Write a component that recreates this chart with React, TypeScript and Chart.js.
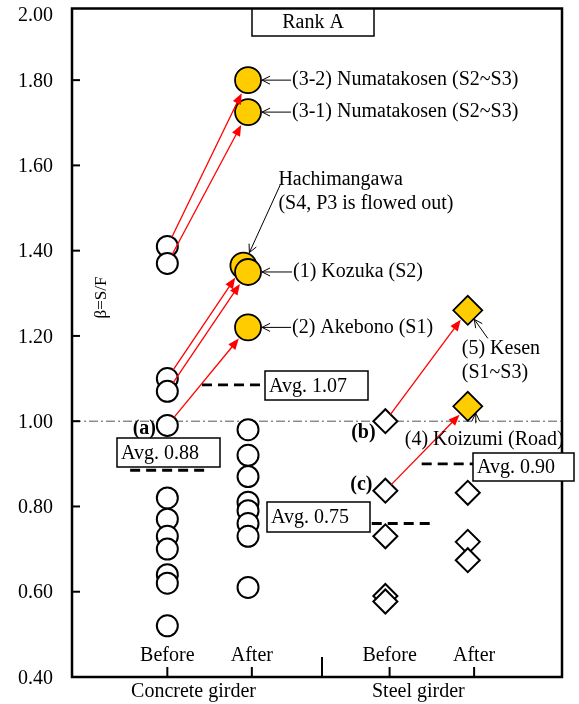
import React, { useEffect, useRef } from "react";
import { Chart, registerables } from "chart.js";
Chart.register(...registerables);

const FONT = '"Liberation Serif", "Times New Roman", serif';

// ---- axes ----
const yMin = 0.4;
const yMax = 1.968;
const yTickValues = [0.4, 0.6, 0.8, 1.0, 1.2, 1.4, 1.6, 1.8, 1.968];
const yTickLabels = ["0.40", "0.60", "0.80", "1.00", "1.20", "1.40", "1.60", "1.80", "2.00"];
const xMin = -0.128;
const xMax = 5.67;
const categories = ["Before", "After", "Before", "After"];
const categoryX = [1, 2, 3.63, 4.63];
const groupLabels = ["Concrete girder", "Steel girder"];
const groupLabelX = [1.31, 3.97];
const groupDividerX = 2.83;
const referenceLine = 1.0;

// ---- data ----
const concreteBeforeX = 1.0;
const concreteBefore = [1.41, 1.37, 1.1, 1.07, 0.99, 0.82, 0.77, 0.73, 0.7, 0.64, 0.62, 0.52];
const concreteAfterX = 1.955;
const concreteAfterPlain = [0.98, 0.92, 0.87, 0.81, 0.79, 0.76, 0.73, 0.61];
const concreteAfterRetrofit = [1.8, 1.725, 1.365, 1.35, 1.22];
const concreteAfterRetrofitX = [1.955, 1.955, 1.9, 1.955, 1.955];
const steelBeforeX = 3.58;
const steelBefore = [1.0, 0.837, 0.73, 0.59, 0.577];
const steelAfterX = 4.555;
const steelAfterPlain = [0.832, 0.717, 0.674];
const steelAfterRetrofit = [1.26, 1.035];

const avgLabels = ["Avg. 0.88", "Avg. 1.07", "Avg. 0.75", "Avg. 0.90"];
const avgLineY = [0.885, 1.085, 0.76, 0.9];
const avgLineX0 = [0.56, 1.41, 3.04, 4.01];
const avgLineX1 = [1.47, 2.5, 4.13, 5.1];

// dataset indices: 0 CB, 1 CA plain, 2 CA retrofit, 3 SB, 4 SA plain, 5 SA retrofit
const redArrows = [
  [0, 0, 2, 0],
  [0, 1, 2, 1],
  [0, 2, 2, 2],
  [0, 3, 2, 3],
  [0, 4, 2, 4],
  [3, 0, 5, 0],
  [3, 1, 5, 1],
];

const annotationTexts = [
  "(3-2) Numatakosen (S2~S3)",
  "(3-1) Numatakosen (S2~S3)",
  "(1) Kozuka (S2)",
  "(2) Akebono (S1)",
  "Hachimangawa",
  "(S4, P3 is flowed out)",
  "(5) Kesen",
  "(S1~S3)",
  "(4) Koizumi (Road)",
];

export default function App() {
  const ref = useRef<HTMLCanvasElement | null>(null);
  useEffect(() => {
    document.body.style.margin = "0";
    const canvas = ref.current!;
    const pts = (xs: number | number[], ys: number[]) =>
      ys.map((y, i) => ({ x: Array.isArray(xs) ? xs[i] : xs, y }));

    const diamondEdge = (r: number, ux: number, uy: number) => r / (Math.abs(ux) + Math.abs(uy));

    const head = (ctx: CanvasRenderingContext2D, tx: number, ty: number, ang: number, len: number, half: number, filled: boolean) => {
      const bx = tx - Math.cos(ang) * len;
      const by = ty - Math.sin(ang) * len;
      const px = -Math.sin(ang) * half;
      const py = Math.cos(ang) * half;
      ctx.beginPath();
      ctx.moveTo(bx + px, by + py);
      ctx.lineTo(tx, ty);
      ctx.lineTo(bx - px, by - py);
      if (filled) {
        ctx.closePath();
        ctx.fill();
      } else ctx.stroke();
    };

    const plugin = {
      id: "decor",
      beforeDraw(chart: any) {
        const ctx = chart.ctx;
        ctx.save();
        ctx.fillStyle = "#fff";
        ctx.fillRect(0, 0, chart.width, chart.height);
        ctx.restore();
      },
      beforeDatasetsDraw(chart: any) {
        const ctx: CanvasRenderingContext2D = chart.ctx;
        const { left, right, top, bottom } = chart.chartArea;
        const xs = chart.scales.x;
        const ys = chart.scales.y;
        ctx.save();
        // reference line
        ctx.strokeStyle = "#555";
        ctx.lineWidth = 1;
        ctx.setLineDash([9, 3, 2, 3]);
        const ry = ys.getPixelForValue(referenceLine);
        ctx.beginPath();
        ctx.moveTo(left, ry);
        ctx.lineTo(right, ry);
        ctx.stroke();
        ctx.setLineDash([]);
        // frame
        ctx.strokeStyle = "#000";
        ctx.lineWidth = 2.5;
        ctx.strokeRect(left, top, right - left, bottom - top);
        // y ticks inward + labels
        ctx.lineWidth = 2;
        ctx.fillStyle = "#000";
        ctx.font = `20px ${FONT}`;
        ctx.textAlign = "right";
        ctx.textBaseline = "middle";
        yTickValues.forEach((v, i) => {
          const y = ys.getPixelForValue(v);
          if (i > 0 && i < yTickValues.length - 1) {
            ctx.beginPath();
            ctx.moveTo(left, y);
            ctx.lineTo(left + 8, y);
            ctx.stroke();
          }
          ctx.fillText(yTickLabels[i], left - 19, Math.max(y + 1.5, top + 7));
        });
        // x ticks
        categoryX.forEach((v) => {
          const x = xs.getPixelForValue(v);
          ctx.beginPath();
          ctx.moveTo(x, bottom);
          ctx.lineTo(x, bottom - 10);
          ctx.stroke();
        });
        const dx = xs.getPixelForValue(groupDividerX);
        ctx.beginPath();
        ctx.moveTo(dx, bottom);
        ctx.lineTo(dx, bottom - 20);
        ctx.stroke();
        // x labels
        ctx.textAlign = "center";
        categories.forEach((c, i) => {
          ctx.fillText(c, xs.getPixelForValue(categoryX[i]), bottom - 21);
        });
        groupLabels.forEach((g, i) => {
          ctx.fillText(g, xs.getPixelForValue(groupLabelX[i]), bottom + 15);
        });
        // y title
        ctx.save();
        ctx.font = `17px ${FONT}`;
        ctx.translate(left + 30, ys.getPixelForValue(1.29));
        ctx.rotate(-Math.PI / 2);
        ctx.fillText("β=S/F", 0, 0);
        ctx.restore();
        ctx.restore();
      },
      afterDatasetsDraw(chart: any) {
        const ctx: CanvasRenderingContext2D = chart.ctx;
        const xs = chart.scales.x;
        const ys = chart.scales.y;
        const el = (d: number, i: number) => chart.getDatasetMeta(d).data[i];
        const rad = (d: number) => chart.data.datasets[d].pointRadius as number;
        const isDiamond = (d: number) => chart.data.datasets[d].pointStyle === "rectRot";
        ctx.save();
        // red arrows
        ctx.strokeStyle = "#ff0000";
        ctx.fillStyle = "#ff0000";
        ctx.lineWidth = 1.3;
        redArrows.forEach(([d0, i0, d1, i1]) => {
          const a = el(d0, i0);
          const b = el(d1, i1);
          const ang = Math.atan2(b.y - a.y, b.x - a.x);
          const ux = Math.cos(ang);
          const uy = Math.sin(ang);
          const r0 = isDiamond(d0) ? diamondEdge(rad(d0), ux, uy) : rad(d0);
          const r1 = (isDiamond(d1) ? diamondEdge(rad(d1), ux, uy) : rad(d1)) + 1.5;
          const sx = a.x + ux * r0;
          const sy = a.y + uy * r0;
          const tx = b.x - ux * r1;
          const ty = b.y - uy * r1;
          ctx.beginPath();
          ctx.moveTo(sx, sy);
          ctx.lineTo(tx - ux * 6, ty - uy * 6);
          ctx.stroke();
          head(ctx, tx, ty, ang, 11, 4.5, true);
        });
        // avg lines
        ctx.strokeStyle = "#000";
        ctx.lineWidth = 2.8;
        ctx.setLineDash([10, 6]);
        avgLineY.forEach((v, i) => {
          const y = ys.getPixelForValue(v);
          ctx.beginPath();
          ctx.moveTo(xs.getPixelForValue(avgLineX0[i]), y);
          ctx.lineTo(xs.getPixelForValue(avgLineX1[i]), y);
          ctx.stroke();
        });
        ctx.setLineDash([]);
        // boxes
        const boxes = [
          [117, 438, 103, 29],
          [265, 371, 103, 29],
          [267, 502, 103, 30],
          [473, 453, 101, 28],
        ];
        ctx.font = `20px ${FONT}`;
        ctx.textBaseline = "middle";
        ctx.textAlign = "left";
        boxes.forEach((b, i) => {
          ctx.fillStyle = "#fff";
          ctx.fillRect(b[0], b[1], b[2], b[3]);
          ctx.lineWidth = 1.5;
          ctx.strokeStyle = "#000";
          ctx.strokeRect(b[0], b[1], b[2], b[3]);
          ctx.fillStyle = "#000";
          ctx.fillText(avgLabels[i], b[0] + 4, b[1] + b[3] / 2 + 1);
        });
        // Rank A
        ctx.fillStyle = "#fff";
        ctx.fillRect(252, 9, 122, 27);
        ctx.strokeRect(252, 9, 122, 27);
        ctx.fillStyle = "#000";
        ctx.textAlign = "center";
        ctx.fillText("Rank A", 313, 23);
        // annotations
        ctx.textAlign = "left";
        ctx.lineWidth = 1;
        const ann: [number, number, number, number, number, number, number, number, number][] = [
          // text idx, ds, pt, textDx, textDy, tailDx, tailDy, tipDx, tipDy
          [0, 2, 0, 44, 0, 43, 0, 14, 0],
          [1, 2, 1, 44, 0, 43, 0, 14, 0],
          [2, 2, 3, 45, 0, 44, 0, 14, 0],
          [3, 2, 4, 44, 0, 43, 0, 14, 0],
          [4, 2, 2, 35, -86, 37, -81, 6, -13],
          [6, 5, 0, -6, 38, 20, 28, 6.5, 9],
          [8, 5, 1, -63, 33, 8, 17, 8, 7],
        ];
        ann.forEach(([ti, d, i, tdx, tdy, ldx, ldy, hdx, hdy]) => {
          const p = el(d, i);
          ctx.fillStyle = "#000";
          ctx.fillText(annotationTexts[ti], p.x + tdx, p.y + tdy);
          if (ti === 4 || ti === 6) {
            ctx.fillText(annotationTexts[ti + 1], p.x + tdx, p.y + tdy + 24);
          }
          const lx = p.x + ldx, ly = p.y + ldy, hx = p.x + hdx, hy = p.y + hdy;
          ctx.strokeStyle = "#000";
          ctx.beginPath();
          ctx.moveTo(lx, ly);
          ctx.lineTo(hx, hy);
          ctx.stroke();
          head(ctx, hx, hy, Math.atan2(hy - ly, hx - lx), 8, 4, false);
        });
        // (a) (b) (c)
        ctx.font = `bold 20px ${FONT}`;
        ctx.textAlign = "center";
        const tags: [string, number, number, number, number][] = [
          ["(a)", 0, 4, -23, 3],
          ["(b)", 3, 0, -22, 12],
          ["(c)", 3, 1, -24, -6],
        ];
        tags.forEach(([t, d, i, dx, dy]) => {
          const p = el(d, i);
          ctx.fillText(t, p.x + dx, p.y + dy);
        });
        ctx.restore();
      },
    };

    const white = { backgroundColor: "#fff", borderColor: "#000", borderWidth: 2 };
    const yellow = { backgroundColor: "#FFCC00", borderColor: "#000", borderWidth: 1.8 };

    const chart = new Chart(canvas, {
      type: "scatter",
      data: {
        datasets: [
          { data: pts(concreteBeforeX, concreteBefore), pointStyle: "circle", pointRadius: 10.5, ...white },
          { data: pts(concreteAfterX, concreteAfterPlain), pointStyle: "circle", pointRadius: 10.5, ...white },
          { data: pts(concreteAfterRetrofitX, concreteAfterRetrofit), pointStyle: "circle", pointRadius: 13, ...yellow },
          { data: pts(steelBeforeX, steelBefore), pointStyle: "rectRot", pointRadius: 12, ...white },
          { data: pts(steelAfterX, steelAfterPlain), pointStyle: "rectRot", pointRadius: 12, ...white },
          { data: pts(steelAfterX, steelAfterRetrofit), pointStyle: "rectRot", pointRadius: 14.5, ...yellow },
        ] as any,
      },
      options: {
        animation: false,
        responsive: false,
        devicePixelRatio: 1,
        layout: { autoPadding: false, padding: { left: 72, right: 17, top: 8.5, bottom: 27 } },
        plugins: { legend: { display: false }, tooltip: { enabled: false } },
        elements: { point: { hoverRadius: 0 } as any },
        scales: {
          x: { type: "linear", min: xMin, max: xMax, display: false },
          y: {
            type: "linear",
            min: yMin,
            max: yMax,
            display: false,
            afterBuildTicks: (s: any) => {
              s.ticks = yTickValues.map((v) => ({ value: v }));
            },
          },
        },
      },
      plugins: [plugin],
    });
    return () => chart.destroy();
  }, []);
  return (
    <div style={{ width: 579, height: 704 }}>
      <canvas ref={ref} width={579} height={704} style={{ display: "block" }} />
    </div>
  );
}
